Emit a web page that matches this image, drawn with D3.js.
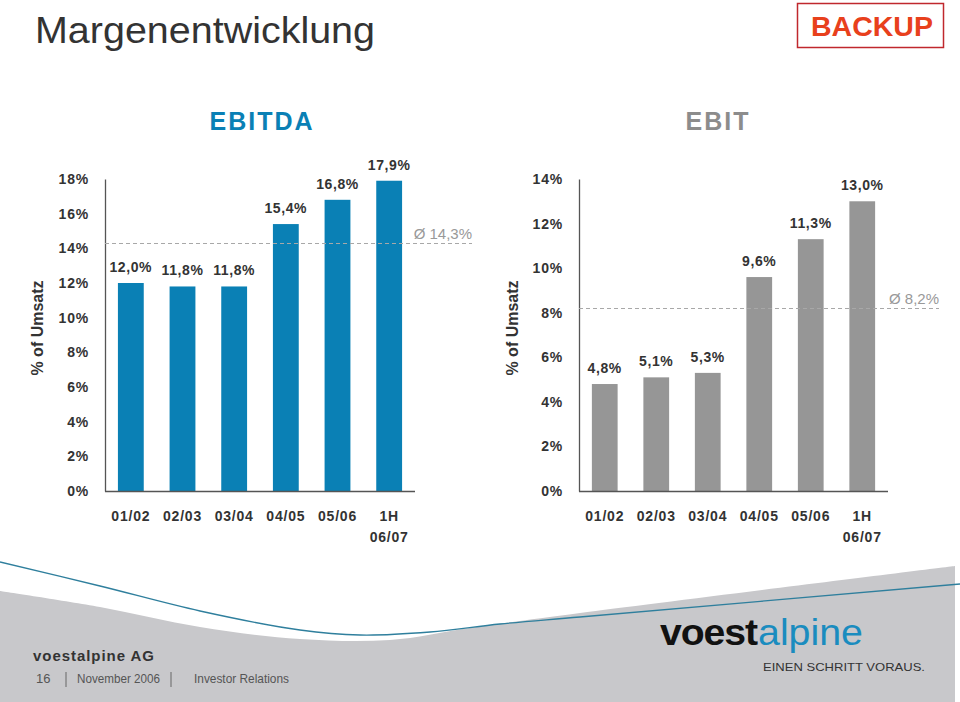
<!DOCTYPE html>
<html>
<head>
<meta charset="utf-8">
<script src="https://cdn.jsdelivr.net/npm/d3@7"></script>
<style>
  html, body { margin: 0; padding: 0; background: #fff; }
  svg { display: block; font-family: "Liberation Sans", Arial, Helvetica, sans-serif; }
</style>
</head>
<body>
<svg id="chart" width="960" height="702"></svg>
<script>
// ---- data ----
const categories = ["01/02", "02/03", "03/04", "04/05", "05/06", "1H 06/07"];
const ebitdaValues = [12.0, 11.8, 11.8, 15.4, 16.8, 17.9];
const ebitValues = [4.8, 5.1, 5.3, 9.6, 11.3, 13.0];
const ebitdaTicks = [0, 2, 4, 6, 8, 10, 12, 14, 16, 18];
const ebitTicks = [0, 2, 4, 6, 8, 10, 12, 14];
const ebitdaAverage = 14.3;
const ebitAverage = 8.2;

const svg = d3.select("#chart");
const fmt = v => d3.format(".1f")(v).replace(".", ",") + "%";

// ---- footer background ----
const lineGen = d3.line().curve(d3.curveCatmullRom.alpha(0.5));
const grayTop = [[0,591],[100,607],[200,627],[300,639],[390,640],[470,628],[580,613],[955,566]];
svg.append("path")
  .attr("d", lineGen(grayTop) + "L955,702L0,702Z")
  .attr("fill", "#c8c8cb");
const blueLine = [[0,562],[100,586],[200,611],[300,630],[360,635],[430,632],[500,624],[580,617],[960,584]];
svg.append("path")
  .attr("d", lineGen(blueLine))
  .attr("fill", "none")
  .attr("stroke", "#2f7f9d")
  .attr("stroke-width", 1.3);

// ---- header ----
svg.append("text").attr("x", 35).attr("y", 43)
  .attr("font-size", 37).attr("fill", "#333")
  .attr("textLength", 340).attr("lengthAdjust", "spacingAndGlyphs")
  .text("Margenentwicklung");
svg.append("rect").attr("x", 797.5).attr("y", 3.5).attr("width", 146).attr("height", 44)
  .attr("fill", "#fff").attr("stroke", "#c0282d").attr("stroke-width", 1.5);
svg.append("text").attr("x", 811).attr("y", 36)
  .attr("font-size", 27).attr("font-weight", "bold").attr("fill", "#e8401c")
  .attr("textLength", 122).attr("lengthAdjust", "spacingAndGlyphs")
  .text("BACKUP");

// ---- panels ----
function drawPanel(cfg) {
  const x = d3.scaleBand().domain(categories).range([cfg.x0, cfg.x1]).paddingInner(0.5).paddingOuter(0.25);
  const y = d3.scaleLinear().domain([0, d3.max(cfg.ticks)]).range([491, 179]);
  const g = svg.append("g");

  // header
  g.append("text").attr("x", cfg.headerX).attr("y", 130)
    .attr("text-anchor", "middle").attr("font-size", 25).attr("font-weight", "bold")
    .attr("letter-spacing", 2).attr("fill", cfg.headerColor).text(cfg.header);

  // bars
  g.selectAll("rect.bar").data(cfg.values).enter().append("rect")
    .attr("class", "bar")
    .attr("x", (d, i) => x(categories[i]))
    .attr("width", x.bandwidth())
    .attr("y", d => y(d))
    .attr("height", d => y(0) - y(d))
    .attr("fill", cfg.color);

  // value labels
  g.selectAll("text.val").data(cfg.values).enter().append("text")
    .attr("class", "val")
    .attr("x", (d, i) => x(categories[i]) + x.bandwidth() / 2)
    .attr("y", d => y(d) - 11)
    .attr("text-anchor", "middle").attr("font-size", 14).attr("font-weight", "bold")
    .attr("letter-spacing", 0.6).attr("fill", "#333")
    .text(d => fmt(d));

  // y axis
  const yAxis = d3.axisLeft(y).tickValues(cfg.ticks).tickSize(0).tickPadding(16)
    .tickFormat(d => d + "%");
  const ya = g.append("g").attr("transform", `translate(${cfg.x0},0)`).call(yAxis);
  ya.select(".domain").attr("stroke", "#555").attr("stroke-width", 1.3);
  ya.selectAll("text").attr("font-size", 14).attr("font-weight", "bold")
    .attr("letter-spacing", 0.8).attr("fill", "#333")
    .attr("font-family", "Liberation Sans, Arial, sans-serif");

  // x axis
  const xAxis = d3.axisBottom(x).tickSize(0).tickPadding(19).tickFormat(() => "");
  const xa = g.append("g").attr("transform", `translate(0,${y(0)})`).call(xAxis);
  xa.select(".domain").attr("d", `M${cfg.x0},0.5H${cfg.x1}`)
    .attr("stroke", "#555").attr("stroke-width", 1.5);
  xa.selectAll(".tick text").each(function(d) {
    const t = d3.select(this).attr("dy", null).attr("y", 30)
      .attr("font-size", 14).attr("font-weight", "bold").attr("letter-spacing", 0.8)
      .attr("fill", "#333").attr("font-family", "Liberation Sans, Arial, sans-serif");
    d.split(" ").forEach((part, k) => {
      t.append("tspan").attr("x", 0).attr("y", 30 + k * 21).text(part);
    });
  });

  // y title
  g.append("text")
    .attr("transform", `translate(${cfg.titleX},328) rotate(-90)`)
    .attr("text-anchor", "middle").attr("dominant-baseline", "central")
    .attr("font-size", 16).attr("font-weight", "bold").attr("fill", "#333")
    .text("% of Umsatz");

  // average line
  const ay = Math.round(y(cfg.avg)) + 0.5;
  g.append("line").attr("x1", cfg.x0).attr("x2", cfg.avgEnd).attr("y1", ay).attr("y2", ay)
    .attr("stroke", "#a8a8a8").attr("stroke-width", 1).attr("stroke-dasharray", "4,3");
  g.append("text").attr("x", cfg.avgEnd).attr("y", ay - 5)
    .attr("text-anchor", "end").attr("font-size", 15).attr("fill", "#999")
    .text("Ø " + fmt(cfg.avg));
}

drawPanel({
  x0: 105, x1: 415, values: ebitdaValues, ticks: ebitdaTicks, avg: ebitdaAverage,
  color: "#0a80b5", header: "EBITDA", headerX: 262, headerColor: "#0a80b5",
  titleX: 37, avgEnd: 472
});
drawPanel({
  x0: 579, x1: 888, values: ebitValues, ticks: ebitTicks, avg: ebitAverage,
  color: "#969696", header: "EBIT", headerX: 718, headerColor: "#8c8c8c",
  titleX: 512, avgEnd: 939
});

// ---- footer texts ----
svg.append("text").attr("x", 33).attr("y", 661)
  .attr("font-size", 15).attr("font-weight", "bold").attr("fill", "#333")
  .attr("textLength", 121).attr("lengthAdjust", "spacing")
  .text("voestalpine AG");
const foot = svg.append("g").attr("font-size", 13).attr("fill", "#555");
foot.append("text").attr("x", 36).attr("y", 683).text("16");
foot.append("text").attr("x", 77).attr("y", 683).attr("textLength", 83)
  .attr("lengthAdjust", "spacingAndGlyphs").text("November 2006");
foot.append("text").attr("x", 194).attr("y", 683).attr("textLength", 95)
  .attr("lengthAdjust", "spacingAndGlyphs").text("Investor Relations");
[66, 171].forEach(px => {
  foot.append("line").attr("x1", px).attr("x2", px).attr("y1", 672).attr("y2", 687)
    .attr("stroke", "#666").attr("stroke-width", 1);
});

svg.append("text").attr("x", 660).attr("y", 645)
  .attr("font-size", 36).attr("font-weight", "bold").attr("fill", "#111")
  .attr("textLength", 97).attr("lengthAdjust", "spacingAndGlyphs")
  .attr("letter-spacing", -1).text("voest");
svg.append("text").attr("x", 758).attr("y", 645)
  .attr("font-size", 36).attr("fill", "#1a8cbf")
  .attr("textLength", 105).attr("lengthAdjust", "spacingAndGlyphs")
  .text("alpine");
svg.append("text").attr("x", 763).attr("y", 671)
  .attr("font-size", 11).attr("fill", "#333")
  .attr("textLength", 162).attr("lengthAdjust", "spacingAndGlyphs")
  .text("EINEN SCHRITT VORAUS.");
</script>
</body>
</html>
